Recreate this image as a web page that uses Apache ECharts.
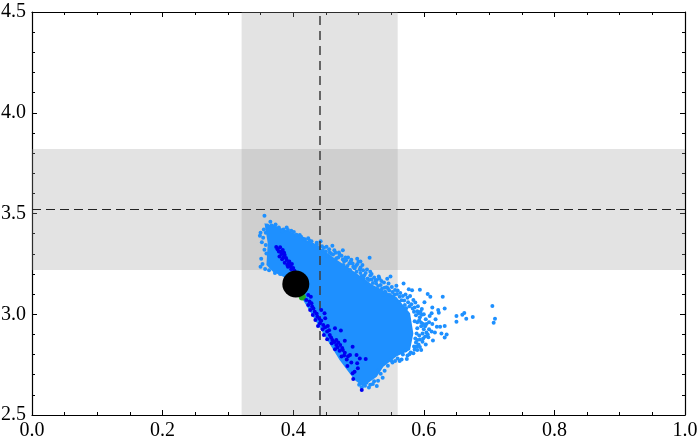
<!DOCTYPE html>
<html><head><meta charset="utf-8">
<style>html,body{margin:0;padding:0;background:#fff}#c{width:700px;height:447px}</style>
<script src="https://cdn.jsdelivr.net/npm/echarts@6/dist/echarts.min.js"></script>
</head><body><div id="c"></div>
<script>
const bandX = [0.321, 0.560];
const bandY = [3.220, 3.820];
const refX = 0.44;
const refY = 3.52;
const bestPoint = [[0.404, 3.150]];
const greenPoints = [[0.414,3.085],[0.411,3.100]];
const denseOutline = [[0.356,3.451],[0.374,3.435],[0.395,3.412],[0.420,3.368],[0.441,3.330],[0.466,3.272],[0.492,3.215],[0.522,3.145],[0.558,3.085],[0.579,3.005],[0.584,2.905],[0.579,2.823],[0.558,2.790],[0.538,2.740],[0.528,2.690],[0.507,2.641],[0.494,2.674],[0.471,2.773],[0.446,2.905],[0.415,3.071],[0.395,3.170],[0.369,3.211],[0.359,3.244],[0.361,3.352]];
const lightPoints = [[0.705,3.041],[0.709,2.978],[0.707,2.958],[0.675,2.986],[0.665,2.978],[0.662,3.006],[0.659,2.998],[0.650,2.991],[0.650,2.963],[0.635,2.899],[0.632,2.884],[0.632,2.942],[0.632,3.028],[0.629,3.087],[0.622,3.021],[0.623,3.008],[0.613,3.033],[0.610,3.087],[0.606,3.101],[0.594,3.122],[0.582,3.119],[0.577,3.124],[0.569,3.152],[0.558,3.142],[0.549,3.187],[0.531,3.187],[0.518,3.211],[0.517,3.281],[0.506,3.244],[0.498,3.276],[0.484,3.282],[0.470,3.306],[0.460,3.340],[0.436,3.355],[0.423,3.377],[0.410,3.393],[0.397,3.415],[0.390,3.430],[0.373,3.445],[0.365,3.459],[0.356,3.489],[0.350,3.405],[0.352,3.357],[0.351,3.276],[0.350,3.236],[0.359,3.302],[0.358,3.344],[0.617,2.910],[0.604,2.910],[0.607,2.886],[0.598,2.864],[0.589,2.905],[0.596,2.823],[0.590,2.823],[0.584,2.806],[0.563,2.768],[0.556,2.768],[0.537,2.685],[0.528,2.644],[0.522,2.654],[0.516,2.636],[0.625,2.938],[0.620,2.938],[0.613,2.952],[0.604,2.952],[0.599,2.952],[0.609,2.991],[0.592,3.005],[0.594,2.985],[0.597,3.026],[0.586,3.034],[0.584,3.071],[0.571,3.046],[0.563,3.087],[0.556,3.120],[0.545,3.129],[0.540,3.132],[0.528,3.170],[0.520,3.173],[0.508,3.178],[0.492,3.236],[0.487,3.220],[0.466,3.278],[0.456,3.307],[0.445,3.316],[0.497,3.211],[0.510,3.162],[0.538,3.096],[0.548,3.096],[0.452,3.290],[0.478,3.262],[0.503,3.205],[0.534,3.145],[0.566,3.070],[0.576,3.060],[0.590,2.960],[0.596,2.940],[0.588,2.860],[0.572,2.820],[0.550,2.770],[0.540,2.760],[0.530,2.720],[0.512,2.660],[0.430,3.345],[0.415,3.375],[0.385,3.420],[0.367,3.440],
[0.372,3.438],[0.378,3.431],[0.383,3.412],[0.392,3.418],[0.401,3.408],[0.405,3.395],[0.412,3.384],[0.418,3.372],[0.425,3.365],[0.432,3.340],[0.438,3.332],[0.447,3.330],[0.450,3.312],[0.455,3.322],[0.461,3.296],[0.465,3.305],[0.469,3.282],[0.474,3.290],[0.477,3.244],[0.481,3.268],[0.486,3.252],[0.489,3.270],[0.494,3.228],[0.498,3.248],[0.502,3.222],[0.505,3.190],[0.511,3.205],[0.514,3.178],[0.518,3.192],[0.522,3.155],[0.526,3.168],[0.530,3.140],[0.535,3.165],[0.541,3.112],[0.546,3.152],[0.552,3.110],[0.553,3.085],[0.560,3.118],[0.562,3.062],[0.568,3.090],[0.573,3.030],[0.575,3.082],[0.581,3.050],[0.585,3.012],[0.588,2.995],[0.591,3.040],[0.593,2.970],[0.597,2.998],[0.600,2.925],[0.603,2.975],[0.586,2.965],[0.590,2.930],[0.593,2.895],[0.602,2.890],[0.587,2.880],[0.592,2.850],[0.585,2.840],[0.580,2.810],[0.575,2.795],[0.568,2.800],[0.566,2.775],[0.560,2.780],[0.552,2.760],[0.545,2.745],[0.540,2.720],[0.534,2.705],[0.530,2.670],[0.524,2.668],[0.518,2.650],[0.510,2.645],[0.505,2.638],[0.501,2.650],
[0.349,3.390],[0.354,3.380],[0.356,3.320],[0.353,3.250],[0.357,3.225],[0.363,3.218],[0.372,3.205],[0.380,3.200],[0.355,3.420],[0.360,3.440],[0.358,3.405],
[0.428,3.362],[0.436,3.348],[0.444,3.338],[0.451,3.335],[0.458,3.300],[0.463,3.318],[0.471,3.296],[0.476,3.272],[0.480,3.282],[0.483,3.240],[0.488,3.262],[0.491,3.252],[0.496,3.240],[0.500,3.260],[0.503,3.232],[0.507,3.218],[0.509,3.194],[0.513,3.222],[0.516,3.170],[0.520,3.200],[0.524,3.182],[0.527,3.152],[0.532,3.178],[0.536,3.128],[0.539,3.158],[0.543,3.134],[0.547,3.118],[0.551,3.135],[0.555,3.098],[0.559,3.100],[0.564,3.105],[0.570,3.068],[0.572,3.098],[0.578,3.040],[0.583,3.028],[0.587,3.058],[0.590,3.015],[0.595,3.012],[0.600,3.000],[0.596,2.958],[0.602,2.940],[0.608,2.925],[0.598,2.905],[0.606,2.900],[0.612,2.915],[0.594,2.875],[0.599,2.880],[0.590,2.872],[0.589,2.840],[0.594,2.838],[0.586,2.825],[0.578,2.802],[0.574,2.778],
[0.601,3.060],[0.612,3.005],[0.618,2.975],[0.608,2.960],[0.627,2.905],[0.614,2.870],[0.603,2.850],[0.579,3.090],[0.544,3.176],[0.503,3.262],[0.476,3.318],[0.442,3.362]];
const darkPoints = [[0.374,3.334],[0.380,3.332],[0.384,3.319],[0.378,3.311],[0.382,3.299],[0.387,3.294],[0.379,3.286],[0.383,3.273],[0.390,3.269],[0.387,3.256],[0.393,3.253],[0.398,3.249],[0.392,3.236],[0.397,3.223],[0.402,3.216],[0.376,3.322],[0.381,3.310],[0.386,3.305],[0.385,3.283],[0.389,3.279],[0.394,3.262],[0.391,3.245],[0.396,3.238],[0.400,3.230],[0.423,3.096],[0.427,3.087],[0.420,3.071],[0.425,3.063],[0.423,3.046],[0.429,3.038],[0.426,3.021],[0.433,3.013],[0.430,2.996],[0.437,2.988],[0.443,3.021],[0.448,3.005],[0.449,2.980],[0.434,2.972],[0.441,2.955],[0.438,2.942],[0.446,2.947],[0.453,2.942],[0.464,2.930],[0.473,2.919],[0.445,2.925],[0.452,2.914],[0.447,2.897],[0.456,2.897],[0.452,2.876],[0.460,2.872],[0.466,2.872],[0.479,2.869],[0.459,2.856],[0.466,2.848],[0.472,2.848],[0.491,2.839],[0.464,2.826],[0.471,2.819],[0.479,2.809],[0.487,2.798],[0.497,2.798],[0.502,2.781],[0.511,2.778],[0.474,2.790],[0.482,2.776],[0.489,2.760],[0.483,2.743],[0.498,2.757],[0.499,2.732],[0.494,2.715],[0.491,2.707],[0.492,2.679],[0.505,2.624],[0.428,3.055],[0.431,3.028],[0.436,3.002],[0.440,2.978],[0.443,2.968],[0.449,2.935],[0.455,2.920],[0.458,2.885],[0.463,2.862],[0.469,2.860],[0.475,2.832],[0.468,2.835],[0.476,2.822],[0.484,2.792],[0.478,2.795]];

const FONT = 'Liberation Serif';
const axisBase = {
  axisLine:{show:true,onZero:false,lineStyle:{color:'#000',width:1.2}},
  splitLine:{show:false},
  axisTick:{show:true,inside:true,length:5,lineStyle:{color:'#000',width:1}},
  minorTick:{show:true,length:3,lineStyle:{color:'#000',width:1}},
  minorSplitLine:{show:false}
};
const labelStyle = {show:true,fontFamily:FONT,fontSize:20,color:'#000',formatter:v=>v.toFixed(1)};
const chart = echarts.init(document.getElementById('c'),null,{renderer:'canvas'});
chart.setOption({
  animation:false,
  backgroundColor:'#fff',
  grid:{left:32,right:15,top:12,bottom:32,containLabel:false,outerBoundsMode:'none'},
  xAxis:[
    {type:'value',min:0,max:1,interval:0.2,position:'bottom',...axisBase,minorTick:{...axisBase.minorTick,splitNumber:4},axisLabel:{...labelStyle,margin:6}},
    {type:'value',min:0,max:1,interval:0.2,position:'top',...axisBase,minorTick:{...axisBase.minorTick,splitNumber:4},axisLabel:{show:false}}
  ],
  yAxis:[
    {type:'value',min:2.5,max:4.5,interval:0.5,position:'left',...axisBase,minorTick:{...axisBase.minorTick,splitNumber:5},axisLabel:{...labelStyle,margin:6}},
    {type:'value',min:2.5,max:4.5,interval:0.5,position:'right',...axisBase,minorTick:{...axisBase.minorTick,splitNumber:5},axisLabel:{show:false}}
  ],
  series:[
    {type:'scatter',data:[],z:1,silent:true,
      markArea:{silent:true,itemStyle:{color:'rgba(157,157,157,0.286)'},data:[
        [{xAxis:bandX[0],yAxis:2.5},{xAxis:bandX[1],yAxis:4.5}],
        [{xAxis:0,yAxis:bandY[0]},{xAxis:1,yAxis:bandY[1]}]
      ]}},
    {type:'custom',z:2,silent:true,data:denseOutline,
      renderItem:(params,api)=>{
        if(params.dataIndex!==0) return null;
        return {type:'polygon',shape:{points:denseOutline.map(p=>api.coord(p))},style:{fill:'#1e90ff'}};
      }},
    {type:'scatter',z:3,silent:true,data:lightPoints,symbolSize:4,itemStyle:{color:'#1e90ff',opacity:1}},
    {type:'scatter',z:4,silent:true,data:greenPoints,symbolSize:7,itemStyle:{color:'#22aa22',opacity:1}},
    {type:'scatter',z:5,silent:true,data:darkPoints,symbolSize:4,itemStyle:{color:'#0000f0',opacity:1}},
    {type:'scatter',z:6,silent:true,data:bestPoint,symbolSize:27,itemStyle:{color:'#000',opacity:1}},
    {type:'scatter',data:[],z:7,silent:true,
      markLine:{silent:true,symbol:'none',label:{show:false},animation:false,data:[
        {xAxis:refX,lineStyle:{color:'rgba(60,60,60,0.75)',width:2,type:[9,6]}},
        {yAxis:refY,lineStyle:{color:'#222',width:1,type:[9,5]}}
      ]}}
  ]
});
</script></body></html>
